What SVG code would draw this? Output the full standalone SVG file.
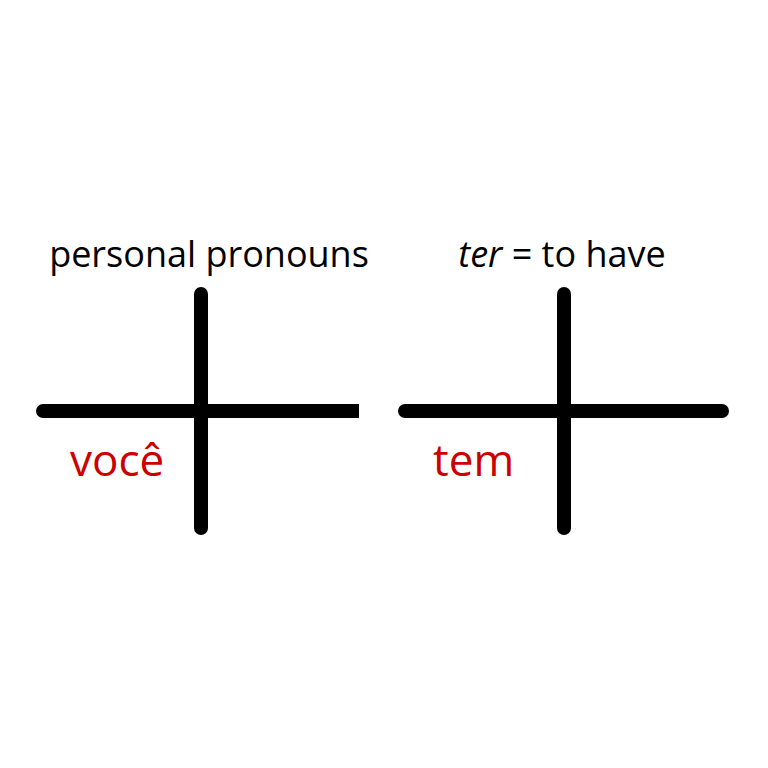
<svg xmlns="http://www.w3.org/2000/svg" width="768" height="768" viewBox="0 0 768 768">
<style>
.bar{stroke:#000;stroke-width:14;stroke-linecap:round;fill:none}
.title{font-family:"Open Sans","Liberation Sans",sans-serif;font-size:36px;fill:#000}
.word{font-family:"Open Sans","Liberation Sans",sans-serif;font-size:44px;fill:#cc0000}
</style>
<rect width="768" height="768" fill="#fff"/>
<g id="connectors">
<line class="bar" x1="43" y1="411" x2="352" y2="411"/>
<line x1="340" y1="411" x2="359" y2="411" stroke="#000" stroke-width="14"/>
<line class="bar" x1="201" y1="294" x2="201" y2="528"/>
<line class="bar" x1="405" y1="411" x2="722" y2="411"/>
<line class="bar" x1="564" y1="294" x2="564" y2="528"/>
</g>
<g id="node-left">
<text class="title" x="209" y="267" text-anchor="middle">personal pronouns</text>
<text class="word" x="70" y="476">você</text>
</g>
<g id="node-right">
<text class="title" x="562" y="267" text-anchor="middle"><tspan font-style="italic">ter</tspan> = to have</text>
<text class="word" x="433" y="476">tem</text>
</g>
</svg>
